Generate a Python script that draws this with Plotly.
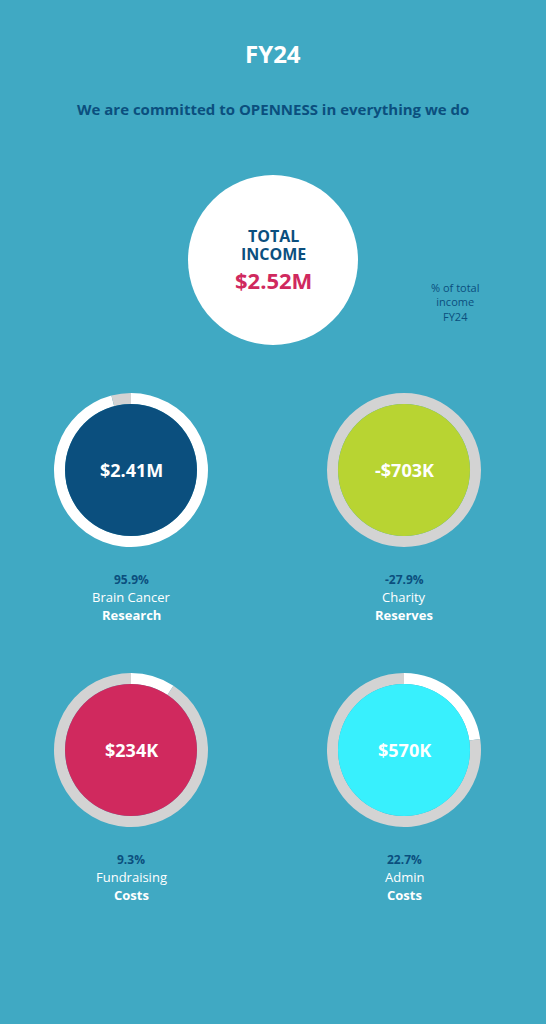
import plotly.graph_objects as go

W, H = 546, 1024
amounts = ["$2.41M", "-$703K", "$234K", "$570K"]
shares = [95.9, -27.9, 9.3, 22.7]
line1 = ["Brain Cancer", "Charity", "Fundraising", "Admin"]
line2 = ["Research", "Reserves", "Costs", "Costs"]
fills = ["#0b4f7e", "#b8d432", "#d0295e", "#38f0fd"]
centers = [(131, 470), (404, 470), (131, 750), (404, 750)]
total = "$2.52M"

BG = "#40a9c3"; DARK = "#0b4f7e"; GREY = "#d3d3d3"
FONT = "Open Sans"
RO, RI = 77, 66

def px(x): return x / W
def py(y): return 1 - y / H

fig = go.Figure()
shapes, ann = [], []
for i, (cx, cy) in enumerate(centers):
    s = max(shares[i], 0)
    fig.add_trace(go.Pie(values=[s, 100 - s], marker=dict(colors=["white", GREY], line=dict(width=0)),
                         hole=RI / RO, sort=False, direction="clockwise", rotation=0,
                         textinfo="none", hoverinfo="skip", showlegend=False,
                         domain=dict(x=[px(cx - RO), px(cx + RO)], y=[py(cy + RO), py(cy - RO)])))
    shapes.append(dict(type="circle", xref="paper", yref="paper", line_width=0, fillcolor=fills[i],
                       x0=px(cx - RI), x1=px(cx + RI), y0=py(cy + RI), y1=py(cy - RI)))
    ann.append(dict(x=px(cx), y=py(cy), text=f"<b>{amounts[i]}</b>", font=dict(size=18, color="white", family=FONT)))
    ann.append(dict(x=px(cx), y=py(cy + 109), text=f"<b>{shares[i]}%</b>", font=dict(size=12, color=DARK, family=FONT)))
    ann.append(dict(x=px(cx), y=py(cy + 127), text=line1[i], font=dict(size=13, color="white", family=FONT)))
    ann.append(dict(x=px(cx), y=py(cy + 145), text=f"<b>{line2[i]}</b>", font=dict(size=13, color="white", family=FONT)))

shapes.append(dict(type="circle", xref="paper", yref="paper", line_width=0, fillcolor="white",
                   x0=px(188), x1=px(358), y0=py(345), y1=py(175)))
ann += [
    dict(x=0.5, y=py(53), text="<b>FY24</b>", font=dict(size=24, color="white", family=FONT)),
    dict(x=0.5, y=py(109), text="<b>We are committed to OPENNESS in everything we do</b>", font=dict(size=15, color=DARK, family=FONT)),
    dict(x=px(273), y=py(236), text="<b>TOTAL</b>", font=dict(size=16, color=DARK, family=FONT)),
    dict(x=px(273), y=py(254), text="<b>INCOME</b>", font=dict(size=16, color=DARK, family=FONT)),
    dict(x=px(273), y=py(280), text=f"<b>{total}</b>", font=dict(size=22, color="#d0295e", family=FONT)),
    dict(x=px(455), y=py(302), text="% of total<br>income<br>FY24", font=dict(size=11, color=DARK, family=FONT)),
]
for a in ann:
    a.update(xref="paper", yref="paper", showarrow=False, xanchor="center", yanchor="middle")

fig.update_layout(width=W, height=H, margin=dict(l=0, r=0, t=0, b=0), paper_bgcolor=BG, plot_bgcolor=BG,
                  shapes=shapes, annotations=ann)
fig.write_html("out.html", config={"displayModeBar": False},
               post_script="document.body.style.margin='0';document.body.style.overflow='hidden';document.body.style.background='#40a9c3';")
